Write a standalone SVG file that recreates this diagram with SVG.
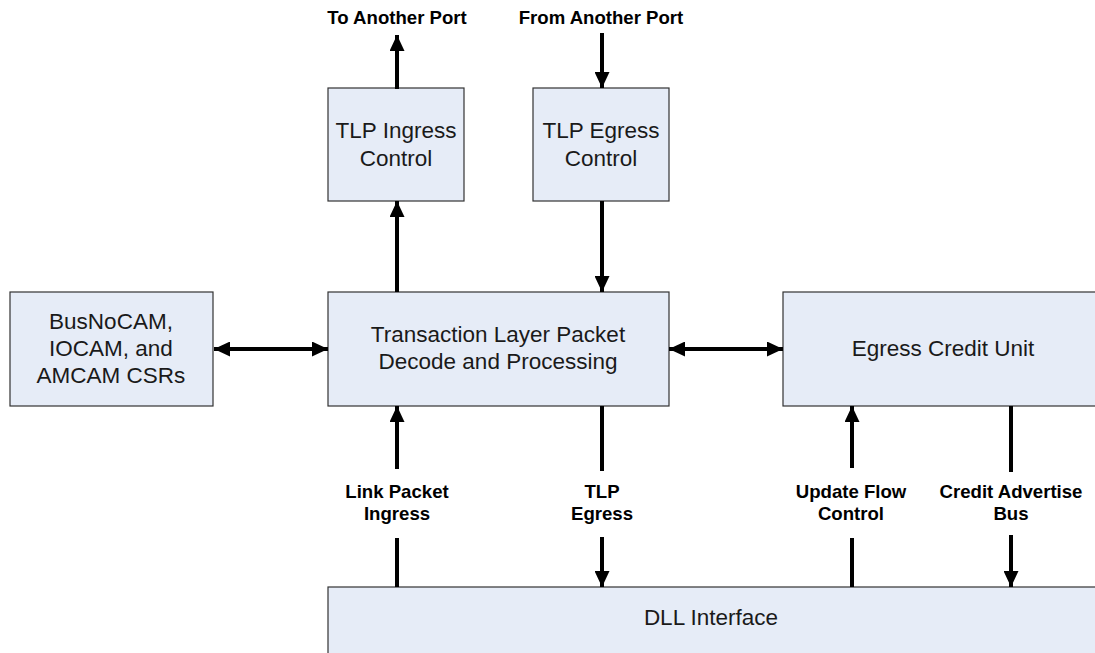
<svg xmlns="http://www.w3.org/2000/svg" width="1095" height="653" viewBox="0 0 1095 653">
<style>
.box{fill:#E6ECF7;stroke:#333;stroke-width:1.2}
.t{font-family:"Liberation Sans",Arial,sans-serif;font-size:22.5px;fill:#1a1a1a;text-anchor:middle}
.b{font-family:"Liberation Sans",Arial,sans-serif;font-size:18.6px;font-weight:bold;fill:#000;text-anchor:middle}
.c{stroke:#000;stroke-width:4;fill:none}
</style>
<defs>
<marker id="ah" markerUnits="userSpaceOnUse" markerWidth="16" markerHeight="15" refX="16" refY="7.5" orient="auto-start-reverse" viewBox="0 0 16 15">
<path d="M0,0 L16,7.5 L0,15 z" fill="#000"/>
</marker>
</defs>
<rect width="1095" height="653" fill="#fff"/>
<g id="tlp-ingress"><rect class="box" x="328" y="88" width="136" height="113"/><text class="t" x="396" y="138">TLP Ingress</text><text class="t" x="396" y="166">Control</text></g>
<g id="tlp-egress"><rect class="box" x="533" y="88" width="136" height="113"/><text class="t" x="601" y="138">TLP Egress</text><text class="t" x="601" y="166">Control</text></g>
<g id="csrs"><rect class="box" x="10" y="292" width="203" height="114"/><text class="t" x="111" y="329">BusNoCAM,</text><text class="t" x="111" y="356">IOCAM, and</text><text class="t" x="111" y="383">AMCAM CSRs</text></g>
<g id="tlp-decode"><rect class="box" x="328" y="292" width="341" height="114"/><text class="t" x="498" y="342">Transaction Layer Packet</text><text class="t" x="498" y="369">Decode and Processing</text></g>
<g id="egress-credit"><rect class="box" x="783" y="292" width="330" height="114"/><text class="t" x="943" y="356">Egress Credit Unit</text></g>
<g id="dll"><rect class="box" x="328" y="587" width="790" height="90"/><text class="t" x="711" y="625">DLL Interface</text></g>
<g id="labels">
<text class="b" x="397" y="24">To Another Port</text>
<text class="b" x="601" y="24">From Another Port</text>
<text class="b" x="397" y="498">Link Packet</text><text class="b" x="397" y="520">Ingress</text>
<text class="b" x="602" y="498">TLP</text><text class="b" x="602" y="520">Egress</text>
<text class="b" x="851" y="498">Update Flow</text><text class="b" x="851" y="520">Control</text>
<text class="b" x="1011" y="498">Credit Advertise</text><text class="b" x="1011" y="520">Bus</text>
</g>
<g id="connectors">
<line class="c" x1="397" y1="89" x2="397" y2="35" marker-end="url(#ah)"/>
<line class="c" x1="602" y1="33" x2="602" y2="88" marker-end="url(#ah)"/>
<line class="c" x1="397" y1="292" x2="397" y2="201" marker-end="url(#ah)"/>
<line class="c" x1="602" y1="201" x2="602" y2="292" marker-end="url(#ah)"/>
<line class="c" x1="214" y1="349" x2="328" y2="349" marker-start="url(#ah)" marker-end="url(#ah)"/>
<line class="c" x1="669" y1="349" x2="783" y2="349" marker-start="url(#ah)" marker-end="url(#ah)"/>
<line class="c" x1="397" y1="469" x2="397" y2="406" marker-end="url(#ah)"/>
<line class="c" x1="397" y1="538" x2="397" y2="587"/>
<line class="c" x1="602" y1="406" x2="602" y2="471"/>
<line class="c" x1="602" y1="537" x2="602" y2="587" marker-end="url(#ah)"/>
<line class="c" x1="852" y1="468" x2="852" y2="406" marker-end="url(#ah)"/>
<line class="c" x1="852" y1="538" x2="852" y2="587"/>
<line class="c" x1="1011" y1="406" x2="1011" y2="472"/>
<line class="c" x1="1011" y1="535" x2="1011" y2="587" marker-end="url(#ah)"/>
</g>
</svg>
